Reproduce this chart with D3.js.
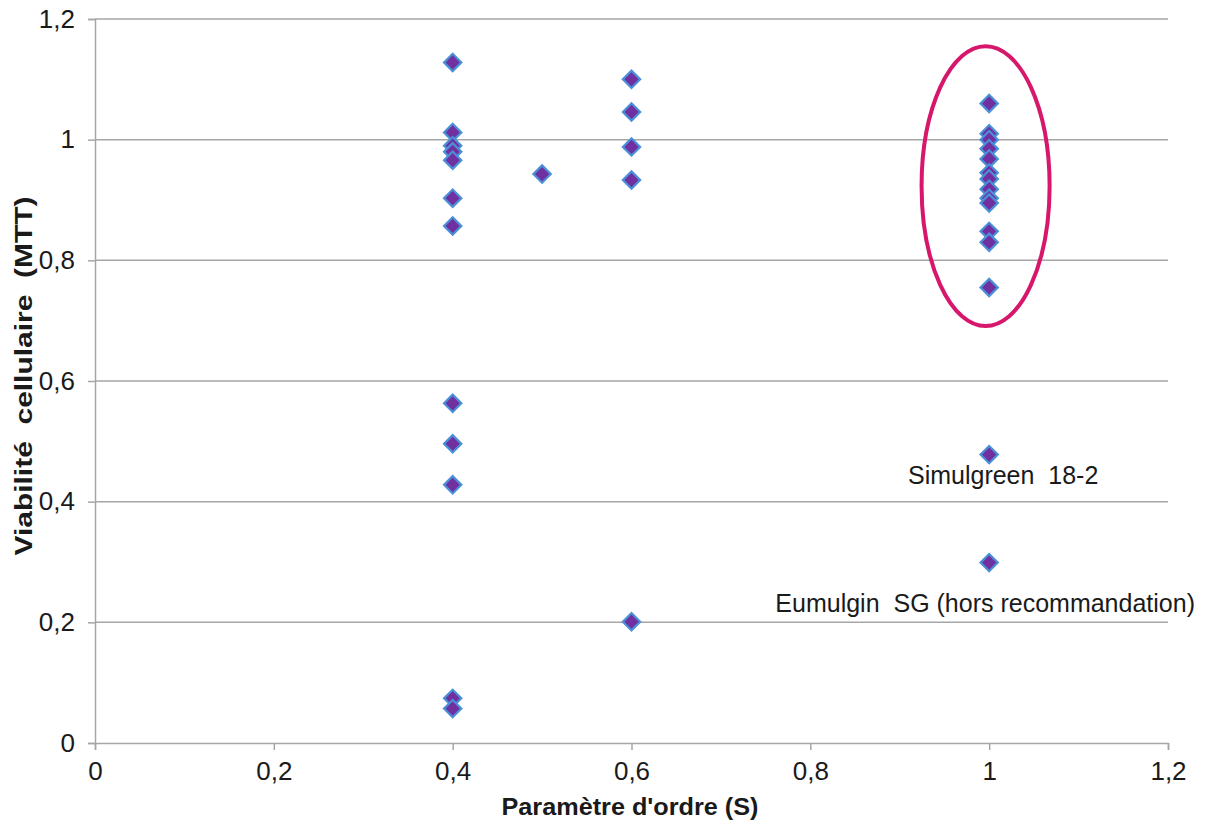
<!DOCTYPE html>
<html>
<head>
<meta charset="utf-8">
<script src="https://cdn.jsdelivr.net/npm/d3@7/dist/d3.min.js"></script>
<style>
  html, body { margin: 0; padding: 0; background: #ffffff; }
  svg { display: block; }
  text { font-family: "Liberation Sans", Arial, sans-serif; fill: #1a1a1a; }
</style>
</head>
<body>
<svg id="chart" width="1211" height="821"></svg>
<script>
// ---- data ----
const xS04 = [1.128, 1.012, 0.990, 0.980, 0.966, 0.903, 0.857, 0.563, 0.496, 0.428, 0.074, 0.057];
const xS05 = [0.943];
const xS06 = [1.100, 1.046, 0.988, 0.933, 0.201];
const xS10 = [1.060, 1.010, 1.000, 0.985, 0.968, 0.945, 0.935, 0.918, 0.903, 0.895, 0.848, 0.830, 0.755, 0.478, 0.299];
const orderParams = [0.4, 0.5, 0.6, 1.0];
const viabilities = [xS04, xS05, xS06, xS10];
const xTicks = [0, 0.2, 0.4, 0.6, 0.8, 1, 1.2];
const yTicks = [0, 0.2, 0.4, 0.6, 0.8, 1, 1.2];
const annotations = [
  { text: "Simulgreen\u00a0\u00a018-2", x: 1.0, y: 0.478 },
  { text: "Eumulgin\u00a0\u00a0SG (hors recommandation)", x: 1.0, y: 0.299 }
];
const highlight = { cx: 0.996, cy: 0.923, rx: 0.0716, ry: 0.232 };
const xTitle = "Paramètre d'ordre (S)";
const yTitle = "Viabilité\u00a0\u00a0cellulaire\u00a0\u00a0(MTT)";

const points = [];
orderParams.forEach((s, i) => viabilities[i].forEach(v => points.push({ s, v })));

// ---- layout ----
const svg = d3.select("#chart");
const m = { left: 95, right: 1168, top: 19, bottom: 743 };
const x = d3.scaleLinear().domain([0, 1.2]).range([m.left, m.right]);
const y = d3.scaleLinear().domain([0, 1.2]).range([m.bottom, m.top]);
const fmt = d => d3.format("~g")(d).replace(".", ",");
const grey = "#a6a6a6";

// gridlines
svg.append("g").selectAll("line").data(yTicks.filter(d => d > 0)).join("line")
  .attr("x1", m.left).attr("x2", m.right)
  .attr("y1", d => y(d)).attr("y2", d => y(d))
  .attr("stroke", grey).attr("stroke-width", 1.5);

// x axis
const xAxis = svg.append("g").attr("transform", `translate(0,${m.bottom})`)
  .call(d3.axisBottom(x).tickValues(xTicks).tickFormat(fmt).tickSize(7).tickPadding(12));
xAxis.select(".domain").attr("stroke", grey).attr("stroke-width", 1.5);
xAxis.selectAll(".tick line").attr("stroke", grey).attr("stroke-width", 1.5);
xAxis.selectAll(".tick text").style("font-size", "26px").style("font-family", "Liberation Sans, Arial, sans-serif").attr("fill", "#1a1a1a");

// y axis
const yAxis = svg.append("g").attr("transform", `translate(${m.left},0)`)
  .call(d3.axisLeft(y).tickValues(yTicks).tickFormat(fmt).tickSize(7).tickPadding(13));
yAxis.select(".domain").attr("stroke", grey).attr("stroke-width", 1.5);
yAxis.selectAll(".tick line").attr("stroke", grey).attr("stroke-width", 1.5);
yAxis.selectAll(".tick text").style("font-size", "26px").style("font-family", "Liberation Sans, Arial, sans-serif").attr("fill", "#1a1a1a");

// points (diamonds)
const diamond = d3.symbol().type(d3.symbolSquare).size(150);
svg.append("g").selectAll("path").data(points).join("path")
  .attr("d", diamond)
  .attr("transform", d => `translate(${x(d.s)},${y(d.v)}) rotate(45)`)
  .attr("fill", "#7030a0")
  .attr("stroke", "#4a90d9")
  .attr("stroke-width", 2.2);

// highlight ellipse
svg.append("ellipse")
  .attr("cx", x(highlight.cx)).attr("cy", y(highlight.cy))
  .attr("rx", x(highlight.cx + highlight.rx) - x(highlight.cx))
  .attr("ry", y(highlight.cy - highlight.ry) - y(highlight.cy))
  .attr("fill", "none").attr("stroke", "#d6176c").attr("stroke-width", 4);

// annotations
svg.append("text").attr("x", x(annotations[0].x) + 14).attr("y", y(annotations[0].y) + 29)
  .attr("text-anchor", "middle").style("font-size", "25px").text(annotations[0].text);
svg.append("text").attr("x", x(annotations[1].x) - 4).attr("y", y(annotations[1].y) + 49)
  .attr("text-anchor", "middle").style("font-size", "25px").text(annotations[1].text);

// axis titles
svg.append("text").attr("x", 630).attr("y", 815).attr("text-anchor", "middle")
  .style("font-size", "24px").style("font-weight", "bold")
  .attr("textLength", 257).attr("lengthAdjust", "spacingAndGlyphs").text(xTitle);
svg.append("text").attr("transform", "translate(32,376) rotate(-90)").attr("text-anchor", "middle")
  .style("font-size", "24px").style("font-weight", "bold")
  .attr("textLength", 359).attr("lengthAdjust", "spacingAndGlyphs").text(yTitle);
</script>
</body>
</html>
